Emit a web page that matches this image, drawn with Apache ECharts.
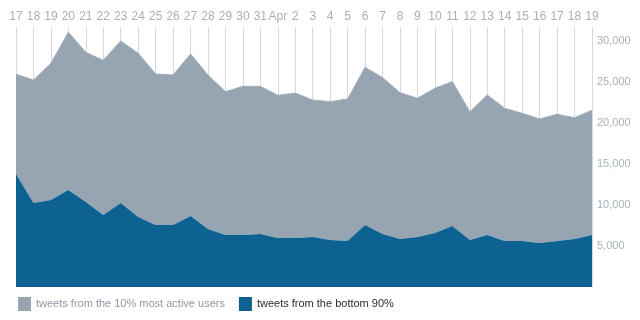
<!DOCTYPE html>
<html>
<head>
<meta charset="utf-8">
<script src="https://cdn.jsdelivr.net/npm/echarts@6/dist/echarts.min.js"></script>
<style>html,body{margin:0;padding:0;background:#fff}#c{width:640px;height:320px}</style>
</head>
<body>
<div id="c"></div>
<script>
const categories = ['17','18','19','20','21','22','23','24','25','26','27','28','29','30','31','Apr','2','3','4','5','6','7','8','9','10','11','12','13','14','15','16','17','18','19'];
const bottom90 = [13780,10240,10610,11830,10370,8780,10240,8540,7560,7560,8660,7070,6340,6340,6460,5980,5980,6100,5730,5610,7560,6460,5850,6100,6590,7440,5730,6340,5610,5610,5370,5610,5850,6340];
const top10 = [12160,15000,16670,19230,18250,18860,19760,19960,18420,18290,19750,18780,17480,18130,18010,17390,17660,16700,16870,17320,19230,19070,17850,16910,17640,17600,15650,17070,16180,15570,15120,15450,14800,15210];
const seriesNames = ['tweets from the 10% most active users', 'tweets from the bottom 90%'];

const font = 'Helvetica Neue, Liberation Sans, Arial, sans-serif';
const chart = echarts.init(document.getElementById('c'), null, {renderer: 'canvas'});
chart.setOption({
  animation: false,
  textStyle: {fontFamily: font},
  grid: {left: 16, right: 48, top: 27, bottom: 33},
  legend: {
    left: 13, bottom: 4, itemWidth: 13, itemHeight: 14, itemGap: 14,
    icon: 'rect',
    data: [
      {name: seriesNames[0], textStyle: {color: '#8d98a3'}},
      {name: seriesNames[1], textStyle: {color: '#2b2b3a'}}
    ],
    textStyle: {fontSize: 11, fontFamily: font}
  },
  xAxis: {
    type: 'category', position: 'top', boundaryGap: false, data: categories,
    axisLine: {show: false}, axisTick: {show: false},
    axisLabel: {interval: 0, color: '#a7b1ba', fontSize: 12, margin: 4},
    splitLine: {show: true, interval: 0, lineStyle: {color: '#d3dbe0', width: 1}}
  },
  yAxis: {
    type: 'value', position: 'right', min: 0, max: 31700, interval: 5000,
    axisLine: {show: false}, axisTick: {show: false}, splitLine: {show: false},
    axisLabel: {
      color: '#a7b1ba', fontSize: 11, margin: 5,
      formatter: v => (v === 0 || v % 5000 !== 0) ? '' : v.toLocaleString('en-US')
    }
  },
  series: [
    {
      name: seriesNames[1], type: 'line', stack: 't', data: bottom90,
      symbol: 'none', lineStyle: {width: 0}, itemStyle: {color: '#0e6291'},
      areaStyle: {color: '#0e6291', opacity: 1}, z: 3
    },
    {
      name: seriesNames[0], type: 'line', stack: 't', data: top10,
      symbol: 'none', lineStyle: {width: 1, color: '#a3afba'}, itemStyle: {color: '#97a5b2'},
      areaStyle: {color: '#97a5b2', opacity: 1}, z: 2
    }
  ]
});
</script>
</body>
</html>
